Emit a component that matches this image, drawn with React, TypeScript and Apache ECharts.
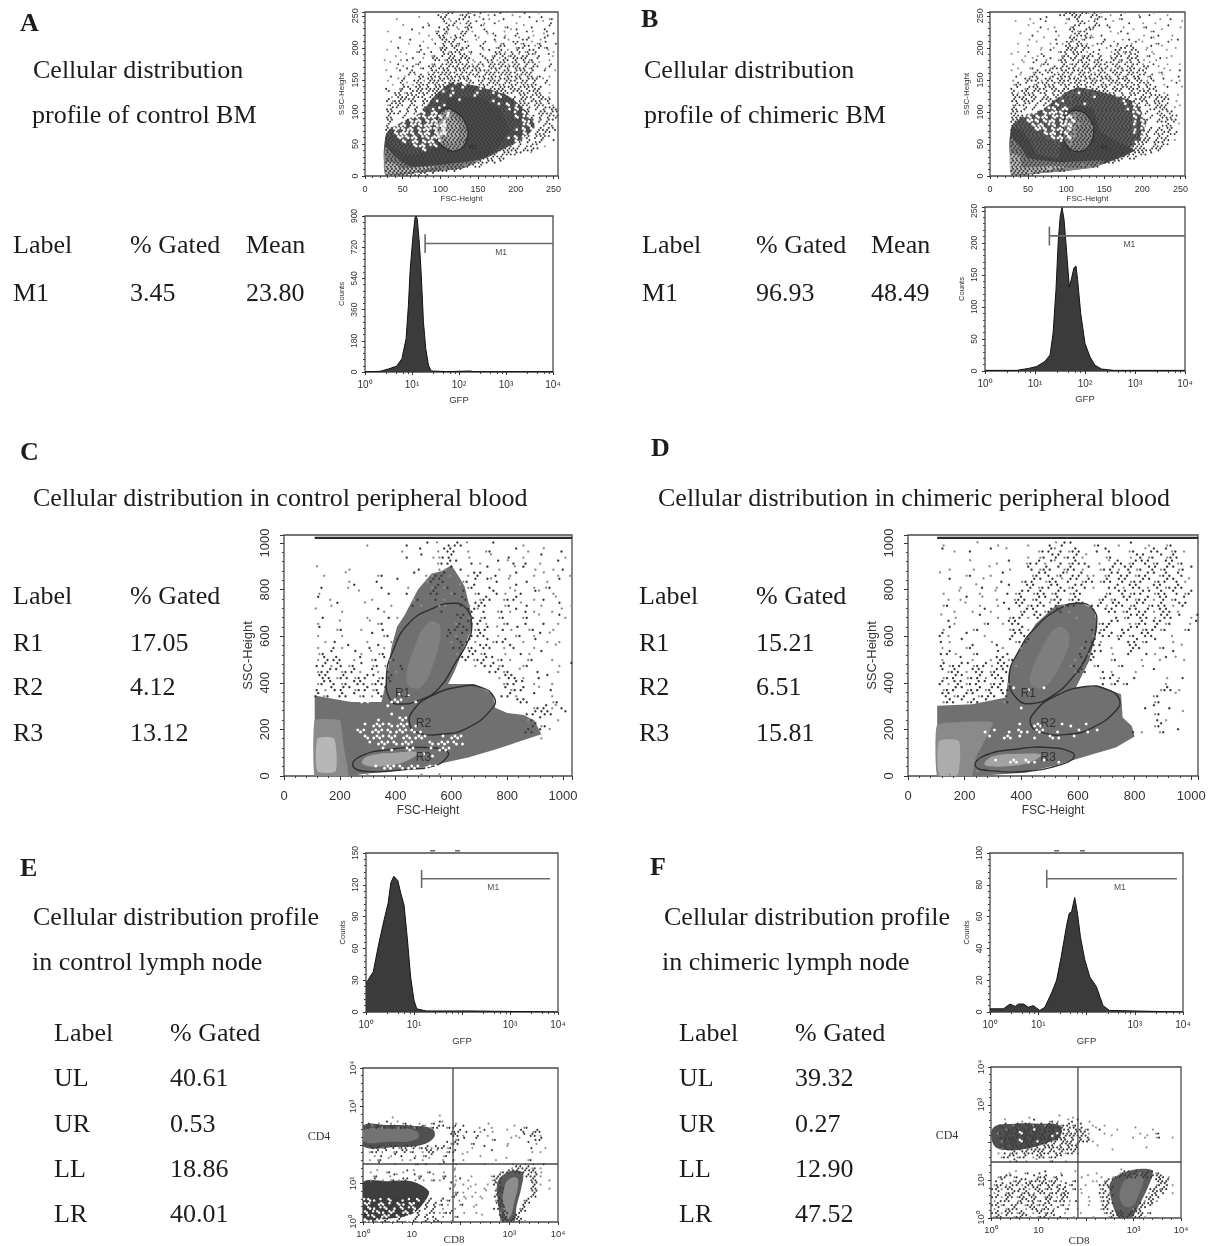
import React, { useEffect, useRef } from "react";
import * as echarts from "echarts";

// ---------- tick labels ----------
const logLabelsFull = ["10⁰", "10¹", "10²", "10³", "10⁴"];
const logLabelsNoTwo = ["10⁰", "10¹", "", "10³", "10⁴"];
const quadXLabels = ["10⁰", "10", "", "10³", "10⁴"];
const quadYLabels = ["10⁰", "10¹", "", "10³", "10⁴"];

// ---------- histograms: [GFP intensity, counts] ----------
const histA = [[1,1],[2.1,4],[3.1,17],[4.7,33],[6.1,77],[7.5,193],[8.4,387],[9.1,580],[10.4,774],[11.6,890],[12.2,900],[13,880],[14.4,735],[15.6,580],[17.5,290],[19.6,135],[22.4,39],[25.5,6],[55,2],[173,6],[204,2],[10000,2]];
const histB = [[1,1],[4.3,1],[7.4,4],[10.8,7],[15.8,15],[20,25],[23,59],[26.3,127],[29.3,205],[32,242],[34.7,255],[38,237],[43,185],[48.6,131],[54,145],[60,161],[66,164],[71,143],[82,90],[100,43],[126,22],[158,9],[215,3],[370,1],[10000,1]];
const histE = [[1,27],[1.17,32],[1.42,38],[1.8,62],[2.3,84],[2.9,103],[3.3,122],[3.8,128],[4.6,124],[5.3,112],[6.2,101],[7.3,68],[8.5,33],[10,11],[11.4,3],[18,1],[66,1],[147,1],[10000,0]];
const histF = [[1,2],[1.9,2],[2.6,5],[3.3,3.5],[3.9,5],[5,5],[6.2,3],[7.9,4],[10.8,1],[13.7,3],[18.9,12],[24,20],[30,35],[38.5,54],[43.7,62],[49,63],[57,72],[65,62],[75,47],[92,33],[117,22],[160,16],[220,4],[300,1],[10000,0]];

// marker M1: low, high, level, tick low, tick high, label x, label y
const markerA = [19, 10000, 741, 687, 794, 790, 693];
const markerB = [19.4, 10000, 211, 196, 225, 770, 198];
const markerE = [14.4, 6800, 125.7, 117, 134, 447, 118];
const markerF = [15, 7500, 83.8, 78, 89.5, 490, 78.5];

// ---------- density regions (FSC, SSC) ----------
const aHalo = [[27,20],[27,62],[32,72],[50,85],[75,100],[92,125],[115,146],[150,140],[190,125],[215,100],[225,76],[205,55],[180,40],[160,28],[100,12]];
const aDark = [[27,2],[27,60],[38,42],[62,32],[90,42],[92,100],[116,122],[152,122],[180,102],[192,70],[180,50],[161,30],[130,12],[62,4]];
const aMid = [[27,2],[27,45],[40,30],[60,15],[95,17],[150,25],[158,28],[130,12],[62,4]];
const aLight = [[28,3],[28,22],[38,20],[48,12],[75,14],[95,15],[70,8],[40,4]];
const aGate = [[94,82],[105,104],[120,100],[134,80],[135,56],[123,40],[107,43],[95,61]];
const aCore = [[104,80],[112,92],[122,85],[124,62],[116,52],[106,60]];

const bHalo = [[28,30],[28,76],[45,95],[70,105],[92,125],[115,138],[150,130],[190,115],[205,85],[200,60],[185,45],[165,30],[100,12]];
const bDark = [[28,2],[28,76],[45,68],[55,50],[60,35],[90,28],[92,60],[95,100],[115,110],[135,105],[145,70],[165,55],[190,40],[170,28],[140,15],[100,8],[60,4]];
const bMid = [[28,2],[28,60],[40,45],[50,28],[90,22],[150,24],[140,14],[100,8],[60,4]];
const bLight = [[28,4],[28,35],[40,30],[42,14],[80,16],[100,14],[60,6]];
const bGate = [[96,74],[101,95],[116,102],[132,87],[136,67],[129,46],[114,38],[99,51]];

const cOuter = [[110,0],[110,345],[180,330],[241,318],[349,318],[367,409],[385,552],[405,640],[432,690],[480,800],[528,868],[565,880],[600,904],[630,850],[648,811],[671,696],[676,640],[660,595],[612,452],[588,395],[683,395],[749,351],[755,294],[800,270],[860,262],[898,237],[922,179],[851,151],[760,115],[660,79],[492,36],[380,20],[277,7],[241,0]];
const cMid = [[110,0],[110,240],[200,240],[215,120],[230,0]];
const cLight = [[120,20],[120,160],[180,160],[185,20]];
const cCoreR1 = [[440,400],[470,560],[520,660],[560,640],[540,500],[490,380]];
const cCoreR3 = [[280,55],[300,85],[400,100],[480,100],[430,60],[330,40]];
const cR1 = [[383,323],[367,423],[391,538],[445,652],[529,717],[612,741],[654,717],[672,653],[660,581],[612,481],[553,373],[481,323],[421,309]];
const cR2 = [[450,222],[462,280],[528,344],[636,384],[707,380],[753,337],[749,294],[660,208],[564,179],[480,186]];
const cR3 = [[247,43],[277,86],[385,115],[504,122],[581,108],[587,86],[539,43],[444,29],[301,19]];

const dOuter = [[103,0],[103,301],[227,308],[345,337],[357,452],[392,538],[451,653],[522,732],[604,746],[658,717],[669,638],[640,495],[593,380],[675,387],[752,351],[758,251],[790,215],[800,170],[734,122],[652,93],[534,50],[416,14],[238,0]];
const dMid = [[103,0],[103,220],[300,230],[240,80],[225,0]];
const dLight = [[110,5],[110,150],[180,150],[175,5]];
const dCoreR1 = [[430,400],[470,540],[530,640],[570,600],[540,480],[480,380]];
const dCoreR3 = [[270,50],[300,85],[400,95],[470,90],[420,55],[320,40]];
const dR1 = [[386,330],[357,423],[392,538],[451,638],[534,717],[604,741],[652,717],[666,653],[640,538],[581,423],[510,344],[439,311]];
const dR2 = [[433,222],[451,280],[522,344],[628,384],[699,373],[746,330],[734,280],[652,208],[569,179],[475,186]];
const dR3 = [[238,43],[268,86],[380,115],[498,122],[581,100],[581,72],[522,43],[439,22],[297,22]];

// quadrant regions in decades of CD8, CD4
const eBandUL = [[0,1.97],[0,2.5],[0.5,2.52],[1.0,2.5],[1.42,2.42],[1.46,2.2],[1.2,2.0],[0.7,1.95]];
const eCoreUL = [[0,2.1],[0,2.38],[0.6,2.42],[1.1,2.36],[1.1,2.15],[0.5,2.08]];
const eLL = [[0,0.1],[0,1.03],[0.5,1.06],[1.0,1.06],[1.35,0.8],[1.25,0.5],[1.0,0.2],[0.6,0.1]];
const eLR = [[2.75,1.0],[2.85,1.2],[3.05,1.33],[3.28,1.28],[3.25,0.9],[3.15,0.4],[3.1,0],[2.85,0],[2.78,0.4]];
const eCoreLR = [[2.9,0.9],[3.05,1.15],[3.18,1.1],[3.1,0.5],[3.0,0.1],[2.9,0.2]];
const fBandUL = [[0.05,1.95],[0.05,2.4],[0.5,2.5],[1.0,2.5],[1.45,2.45],[1.45,2.15],[1.2,2.0],[0.8,1.85],[0.3,1.8]];
const fLR = [[2.5,0.9],[2.7,1.15],[3.1,1.3],[3.4,1.25],[3.3,0.8],[3.1,0.3],[2.95,0],[2.7,0],[2.55,0.4]];
const fCoreLR = [[2.75,0.85],[2.95,1.1],[3.2,1.12],[3.1,0.6],[2.95,0.3],[2.75,0.4]];

// ---------- event maps read cell by cell ----------
// . and ' dark event, : two dark events, , and ` grey event, o and O gap, % two gaps
const mapA = [
"                  .`:' ,.:`.' , .'  ,  '   `    ",
"       ,     `    ':,  .:'  `.,   .   ` '  ' ,. ",
"               ,   '.`:, :.' ,  .`   ,    ' ` . ",
"         `    .'  . :', ,:. '`    ,.   ` .   ' ,",
"     ,     '     ,.':  `.:,  '.   , `'  .,  '.  ",
"             ` , '.:` .':  .  `'. ,  :   ,  `.' ",
"        '  .    , ':.`:'.  ,`   . ',  `.:  ,'   ",
"      `   ,   `  . :':,.'`   :  `,. ':,. `,.'  .",
"        .    ' ,  ,:.':`.:  '.  ,:'  ,.:' `:,.  ",
"     `  ,   ,:  . ':,.::`,.  `' .:,`.'.,:'.  `, ",
"       ,  `   ' ,. :':.':.` '. ,:':,:.`.:'`. ', ",
"    ,   , .'  ` ':.,::.:':,  '.:,`:.':':,.'  ,  ",
"      ` .   ,:  ,. .::':.:,`:.':.::,':.':'.`  . ",
"       , `.' ,.':`:.:':.::':.`':.:':':.:,:' ,'  ",
"     `  '  :.  ,':.::.:':.:':':.:.::.:':.:  '  `",
"      .  ,' `:.':.:':.::.:':.:':.:':.::':.,. ,  ",
"     ,  `:  .:,':.::':.:':.%.:':.:':.:'.:': `.  ",
"      , '.`,':.:':.:':o:%:'o:.:':.:'.:':.:. ',  ",
"     .  ,:'.':.:.::':O::o:::O:o:.::':.:':'.:    ",
"     ' .:,.:':.:':.o:O:::::O:::O:':.:':.:':. ,  ",
"      ,':.:':.:o:':::o:::::o:::::%:.O.':.:':.,  ",
"     :,.::':.o:.:O:::::o:::::::O:::::O::o:.:': ,",
"     ,:':.o:.O:o:::O:::::::::::::o:%:O:::O::.',",
"     .:'oO:o:%:.O:o::::::::::::::::O:%:o:%:o:':.",
"     ':.:O:%:o%:O%::O::::::::::::::::o:%:O%::.:'",
"     :.o%:%O%o%O%o%:o::::::::::::::::%:o%:O:%:':",
"     ':%o%:%O%:%O%:O:::::::::::::::::::%O:%:o:' ",
"     :o%O%:%o%O%o%O%:::::::::::::::::::o%:O%:'.  ",
"     ::%o%O%:%O%o%:%:::::::::::::::::O:%:%O:.:'. ",
"     ::%O%o%:%O%:%O%:::::::::::::::::::%:%:.:'  ",
"     :::%o%O%:o%O%o::::::::::::::::O:%:o:%:':'   ",
"     ::::%:O%:%O%:o::::::::::::::::::%:o:%.:  '  ",
"     :::::::%O%:o%:::::::::::::::::::O:%.:' ,    ",
"     :::::::::%:::::::::::::::::::::::o:.:'      ",
"     ::::::::::::::::::::::::::::o::.:'  `      ",
"     :::::::::::::::::::::::::.:':.              ",
"     ::::::::::::::::::::::.:.:'.'               ",
"     :::::::::::::::::::.:'.:                    ",
"     ::::::::::::::.:':'                         ",
"     :::::::.:'.'                                ",
];
const mapB = [
"                 .:':.:'`:.` ,  .`  ,  .`  ,    ",
"         ,  .'    ,.':  ',:`.  ,.   '    ,  .   ",
"      `   ,  '    ,  ':.`'.   `   .  ,  ,      `",
"         `  .  ,   ,:'  .:' '.  ,    ,.    '  , ",
"           ,  ` .  ':,.:'`   ,  .  `   ,. `     ",
"       `  .     ,  ,':.:,  .   ` '   ,   .  ,   ",
"         ,   `  .  ':.,:'`  .   , . ,  '`   , . ",
"      ,    `  , .,':`:.,  .:  `.  ,' `  ,. '    ",
"         `  ,  ,  ':.:':.`  ,' `.:'.  ,'  `  ,  ",
"      ,  .  ` ' ,.:':.:, .'  ,':,.:'. `,   `    ",
"     `  ,  ,'.   ,:.':,.:.'. ,':.`:'. ,.`   ,   ",
"       ,  `. ,' ,:.':,:'.,:. ':,.':'.,  ,' `    ",
"     ,  ` ' ,:.  ':,.:':.':.:'.:`:'.:, `.  ,  , ",
"      ,  ,. ` ,:.:'.:,':.:'.:,':.':.,':  `,     ",
"     ` ,  ,:.':.,':.:':.:,':.':.:':.:'.  ,. ` ' ",
"      .` ,:.' ,:':.:,':.:':.:.':,:'.:',:  `   . ",
"     ,  ':.:,':.':.:':.:':.:':.:':.':.,'. ' , , ",
"     ,:.' ,:':.:':.:':.:':o:.:':.:'.:':.  ,  '  ",
"     .' ,:':.:':.o:.':.:'.:':o:.:':.:,'.:  '   `",
"     :,':.:'.:o:':.:'O:.:':::.:'.O:.:':.' ,    ,",
"     ':.:':.O:.':o:.:.:::O:::::o:.:'o:.:':.:  ` ",
"     :.':.:o:':.:O:.::::::::::::O:.:':.O:.:' ,  ",
"     ,:.:'O:%:o:%:'::::o:::::::::o:%:O:.':.:  , ",
"     :.o:%:O%.o%:O%.:::::::::::::O:%:o%.:':. ` ",
"     ::'%O%o:%O%o%O.:::::::::::::::o%O:%o:.': ",
"     :::o%:%O%:%o%O%.::::::::::::::%:%O:%':.:'  ",
"     ::::%o%:%O%:%O:%::::::::::::::O:%:%o:.:':  ",
"     :::::%O%:o%:%o%:.:::::::::::::o:%O%o%.:. ` ",
"     ::::::%o%:%O%:%.::::::::::::::O:o%:%:.':  ",
"     ::::::::%O%:o%:.::::::::::::::o:%:O:.:'.:   ",
"     :::::::::'%O%:%.::::::::::::::::o:.O:.:    ",
"     ::::::::::.:o:.:::::::::::::::O:::o:.:' `  ",
"     ::::::::::::':.::::::::::::::::::oO:.:'    ",
"     :::::::::::::::::::::::::::::::::.:':      ",
"     :::::::::::::::::::::::::::::.:':.'        ",
"     ::::::::::::::::::::::::::.:'.:            ",
"     ::::::::::::::::::::::::.:'                ",
"     :::::::::::::::::.:':.                     ",
"     :::::::::.:':.                             ",
"     ::::.:'                                    ",
];
const mapC = [
"                                                ",
"             ,      .  ' ` .:.`   '    ,        ",
"                   ,  '  ,':. ,  ,.   ' ,  `  . ",
"                    . ' ,,.:  ,   `  . ,  '   , ",
"                         ,.:'  .,  ' `. . ,  '  ",
"     `    ,           .  ,,' .   ' ,  `' ,  , . ",
"      ,   `    ,.    ' ,,.:,  ,':  . ,'  , ` , ,",
"          ,    .  '    ,:'.  ,.' '`. `  .  , '  ",
"      .   ,'    .   ,   ,:,. `,:  .  ,'  , ,.    ",
"     ,      `    .  .   :. ,.' ,. '., `. '` ,   ",
"     ' ,      ,      ,.  .,  '. ,:. ,.:  , . `  ",
"       ,'    `   ,   .,  ,,  .,':.  ,. `. ,  ' ,",
"     `   ,     ',         .   ':`. ,.,' .,  , ` ",
"      .      ,   .,         ':,.,. ,.  ,. `  ',",
"     ,   `    `,.           ,.'.:,  ,.  .  . ,  ",
"     '  ,.  ,   .          .:'.,.: `.,' ,.  ,   ",
"     ,   ,    ' ,.         :,',.:. ,  ,. ,' `   ",
"      , .    ,   ,'        ,'.:, ',.:  , ' , ,  ",
"     ,  .,'   .',           .:,.':. ,'.  ,   `  ",
"     ,.'   ', `,.           ,.':,.  ,  ., '     ",
"     ,'.:. ,' ,.',.          ':,.:',.,  ,.  ,   ",
"     .:,'.,.' ,.,  .           ,'.:,.  ,.    , '",
"     ,.:',.:, ', .,'              .:,. `  .  ,  ",
"     ':.,:.,.:',.:                 ,':.,  .'    ",
"     ,:'.,.':.,:.'                  ,.:' ,  ,   ",
"     .,'.:',.:,.'                   ',.:  ` .   ",
"     :,. :.',.,'.  oO               .:,  '  ,   ",
"           oO%o  O%o O                ':.   ,.  ",
"                 o O                     ,.:,`. ",
"                 O                      .:':. ' ",
"               O   %o                   ,.'  ,  ",
"             oO%o%O%oO                   :,.    ",
"            %oO%o%O%o%O                 :.' `   ",
"             %O%o%oO%O%o  oO%o            ,     ",
"              oO%o%O%o  %O%o%O                  ",
"                oO  %o  oO%o                    ",
"                       oO                       ",
"                                                ",
"               oO%o%O%oO%o                      ",
"             ,        ,  ,                      ",
];
const mapD = [
"                                                ",
"     ,     `  ,    ,   .`:'   ,.  , '  ,  ,.    ",
"     ' ,  .  '  `    ,.:`.,:.  .'.  ,. `:.',.,  ",
"                   , ,.':,.:,`  ,.  ,':,.',:.   ",
"          `   , '  ,.:,'`.,:.. , `:.,:':,.':,.  ",
"      ,   ,  `  ,  '.,:.',:.,' ,.:,':,.':,:',.' ",
"     `   ,.  , '    ,:'.,:`.:,, ,:'.:,.:',:.'.  ",
"      '     `  .  ,.:',:.`:',:.,:.':,.:',.:'.,` ",
"        ,  `. , '  ':,.:'.,:'.,  .:,':.,':,.:.  ",
"     ,  `  ,  ` .,:',:.,:',:.   ,.':,.:',:.'.,: ",
"      , ,'  ` ,  ,:.,:',:.,:.  ,:,.':,.:,':,.'  ",
"     ,.  ` ,  ,' ':,.:.`:,.:',.:,':.,:',.:.,':  ",
"       ,  , ',  ' ,:'.,:'.,     ':.,:'.:,':.,   ",
"     ` ,   '  , ,.:,':     ,      .,:':.,':.' ,' ",
"      ',    ,. ,':.            ,.:' ,,:.':,.  ,' ",
"     ,'   ,.    ,.:,          .,:  .:',.:,.  ,.",
"     :,  '  ,    :'.          ,'.:,:,.':.  ,  ",
"     ., '    ,  ',.:         .:,  ' .:,.'  ,   ",
"     ,   ,:   ',  ,         ,.:' ,  ':.  ,.  `  ",
"     .:,  ,.  ' .           .,:' ,  :  .,  '   ",
"     ,  ' ,  ,':,.         ,'.:  ,.   ,  ,' `,",
"     :,.:',.:,':.,        ,.' ,.  ,.  ,      ",
"     ',:.,':.,:'.          ,:.  .,   ,  '   ",
"     ,.:',.:,':.               ,.:,  .    ,  .   ",
"     :,':,.:',.:,               .,:,.     ,   ",
"     ,.:',.:,:'.:o O  o                  ,:.,   ",
"     ':,.:',.:.'.                       ,.  `   ",
"     ,:.',:.'  ,.                       ,.      ",
"                  O                    .'  .    ",
"                                        ,.   `  ",
"                                         .,     ",
"                  o O%   oO  o          ,:      ",
"            O o O %O %o O   oO o     .,  ,. '   ",
"             o O% o O  %O  o                    ",
"                                                ",
"                                                ",
"                                                ",
"              o O% %O o O                       ",
"                                                ",
"      ,    `                                    ",
];
const mapE = [
"                                                ",
"                                                ",
"                                                ",
"                                                ",
"                                                ",
"                                                ",
"                                                ",
"                                                ",
"                                                ",
"                                                ",
"                                                ",
"                  ,                             ",
"       `                                        ",
" . , ', `,.  ,  ,.'`  ,       ,                 ",
" .`:,.':,.:',.:`,.:',.: '   ,  ,     ` ,.       ",
"                     ,.: . .,' ,   `  '. ,:.    ",
"                     ':.,   . ,      , ' :.,    ",
"                      ,.'  '   ,.   ` `   .:    ",
"                    ',:.  ,.       ,    ' ,     ",
" '.:,.':,.:':,.:,'.:,.    ,  '     `     .  ,   ",
" ,.:,' ,.':,. ,':.` ,.:  ,     '         , ,    ",
"  , . ,' .  , ,.'  ,.   `   ,                   ",
" , ,. `  , ,' , `  ,  . ,       ,  `    ,.      ",
"   '   ,    ,. .  ,'  ,      ,      ,  , ,  .   ",
"                      ,             ,':.:,.,    ",
" , ` ,.  ,' `  ,.  ,  `          ,.:':.:':.,    ",
"  ,.  ,'`   ',.  ` ,. ,   ,    ,.:      :.:,    ",
" ,' , ,.,': ,', ,.,'  ,' ,     ,:'       :.  , ",
"                     ', ,  ,  , :'       ':,    ",
"                     .`  ,`  ,  ,:.      :.  ,  ",
"                      ,.,  ,  ` ':.      ':     ",
"                     ,: , , ,   :.       :.     ",
"o%O:o:%::O:o:%:O:o%:,. , `   `  ,:.    ,:       ",
"%o:O%:o:%O:%o:O:%:,.,  ,.  ,    ':.    :'       ",
":%O:o%:O:%:o%:O:%:o,  ,    `    .:'   ,:        ",
"%:o%O:%o:O%:o:%O:.,,.:  ,  ,     ,:.  :'        ",
":o%:O%o:%:O%o:O:%. ,  ,.     `   ':. :.         ",
"%O:%o:O%:o%O:%o:O:.  ,           ,:.:':,        ",
];
const mapF = [
"                                                ",
"                                                ",
"                                                ",
"                                                ",
"                                                ",
"                                                ",
"                                                ",
"                                                ",
"                                                ",
"                                                ",
"                                                ",
"                                                ",
"         ,       `  ,                           ",
"   `   ,  '   ,.,  `.'  ,                       ",
"  .' ,:.':,.',:.',.:,.'  ,  ,                   ",
"  ',.:.:.:O:.:':':.:'.:,. `.   ,    `   ,       ",
" ,.':.:%:.':.:':O:.:.:':,   ,        ,   ,.      ",
"  .:..:':':.:.:o:.:':':'.     `    ,  ,` ,.  ,  ",
"  ,:':.%:.:O:':.:':.:%:.:,                       ",
"  .:':.:':.:':.:O:':.:    ,                     ",
"  ,'.:':':.:.:':':.:.:        ,        `        ",
" , .,:.':.:':.:'.:,.:,                          ",
"  ,.:',.: ,':.,.:'                              ",
"    ,'. ,  `  ,.  ,                             ",
"                                                ",
"                                ,               ",
"    , ` ,.  .'   ,   `    ,     ,:'.:,.:',.     ",
" ,.:',.   ',.: ,.'    , `  ,  ,.:':.:':.:':.,  ",
" .'  ,.:',.:.:,.:,  ,.   ,, ,:'          ':.:  ",
",.:,'.:,':.,:'.:,.',.  ,   .:.           ,:'.,",
".:,':. .:,':.,:.'.: ,.,    ,.':         .:,:.  ",
",' ,.:',:.,':.,.:,:.  ,    .:,         ,':'. , ",
".:,':.,:.':. ,:.,':.    ,  ,.:'        .:'.    ",
", .:. ,:'.:,.':,.:., .  ,  ,.:        ,':,     ",
".:,. .:',.:,.:'. ,.,    ,   .:'      ':':      ",
",' ,.:. ,':.,:.,' ,. ,     ,:.     ,.:'        ",
".:,':.,:. ,':,.:  ,   ,     ,.:':. :':.,.      ",
",:.' ,.:', ,.:,' .  ,    ,   ,:':.:'.:,        ",
];

// ---------- region labels ----------
const gateLabelsA = [[143, 46, "R1"]];
const gateLabelsB = [[150, 46, "R1"]];
const gateLabelsC = [[425, 358, "R1"], [500, 228, "R2"], [500, 80, "R3"]];
const gateLabelsD = [[425, 358, "R1"], [495, 228, "R2"], [495, 80, "R3"]];

// ---------- text of the tables and captions ----------
const colLabel = "Label";
const colGated = "% Gated";
const colMean = "Mean";
const rowsA = [["M1", "3.45", "23.80"]];
const rowsB = [["M1", "96.93", "48.49"]];
const rowsC = [["R1", "17.05"], ["R2", "4.12"], ["R3", "13.12"]];
const rowsD = [["R1", "15.21"], ["R2", "6.51"], ["R3", "15.81"]];
const rowsE = [["UL", "40.61"], ["UR", "0.53"], ["LL", "18.86"], ["LR", "40.01"]];
const rowsF = [["UL", "39.32"], ["UR", "0.27"], ["LL", "12.90"], ["LR", "47.52"]];

const SERIF = '"Liberation Serif", serif';
const SANS = '"Liberation Sans", Arial, sans-serif';
const BODY = 26;

function txt(x: number, y: number, text: string, size = BODY, weight = "normal"): any {
  return {
    type: "text", x, y, silent: true, z: 50,
    style: { text, font: `${weight} ${size}px ${SERIF}`, fill: "#1c1c1c", align: "left", verticalAlign: "middle" },
  };
}
function small(x: number, y: number, text: string, size: number): any {
  return {
    type: "text", x, y, silent: true, z: 50,
    style: { text, font: `${size}px ${SERIF}`, fill: "#333", align: "center", verticalAlign: "middle" },
  };
}
function table(xs: number[], ys: number[], rows: string[][], head: string[]) {
  const out: any[] = head.map((h, i) => txt(xs[i], ys[0], h));
  rows.forEach((r, ri) => r.forEach((c, ci) => out.push(txt(xs[ci], ys[ri + 1], c))));
  return out;
}

const App = () => {
  const ref = useRef<HTMLDivElement>(null);
  useEffect(() => {
    const chart = echarts.init(ref.current!, undefined, { renderer: "svg" });
    const grids: any[] = [];
    const xAxes: any[] = [];
    const yAxes: any[] = [];
    const series: any[] = [];

    const addGrid = (box: number[]) => {
      grids.push({ show: true, left: box[0], top: box[2], width: box[1] - box[0], height: box[3] - box[2], borderColor: "#4a4a4a", borderWidth: 1.3, backgroundColor: "transparent", containLabel: false });
      return grids.length - 1;
    };
    const tickStyle = (size: number, minor: number) => ({
      axisLine: { show: false },
      axisTick: { show: true, length: size >= 11 ? 4 : 3, lineStyle: { color: "#333", width: 1 } },
      minorTick: { show: true, splitNumber: minor, length: 2, lineStyle: { color: "#444", width: 1 } },
      splitLine: { show: false },
    });
    const valueAxis = (dim: string, g: number, max: number, interval: number, size: number, name: string, gap: number, nameSize: number, margin: number) => ({
      type: "value", gridIndex: g, min: 0, max, interval, name, nameLocation: "middle", nameGap: gap,
      nameTextStyle: { fontFamily: SANS, fontSize: nameSize, color: "#333" },
      ...tickStyle(size, 5),
      axisLabel: { show: true, showMaxLabel: max % interval === 0, fontFamily: SANS, fontSize: size, color: "#333", margin, rotate: dim === "y" ? 90 : 0, formatter: (v: number) => String(v) },
    });
    const logAxis = (g: number, labels: string[], size: number, name: string, gap: number, nameSize: number) => ({
      type: "log", logBase: 10, gridIndex: g, min: 1, max: 10000, name, nameLocation: "middle", nameGap: gap,
      nameTextStyle: { fontFamily: SANS, fontSize: nameSize, color: "#333" },
      ...tickStyle(size, 5),
      axisLabel: { show: true, fontFamily: SANS, fontSize: size, color: "#333", margin: 7, formatter: (v: number) => labels[Math.round(Math.log10(v))] ?? "" },
    });
    const decadeAxis = (dim: string, g: number, labels: string[]) => ({
      type: "value", gridIndex: g, min: 0, max: 4, interval: 1,
      ...tickStyle(9, 5),
      axisLabel: { show: true, fontFamily: SANS, fontSize: 9.5, color: "#333", margin: 6, rotate: dim === "y" ? 90 : 0, formatter: (v: number) => labels[v] ?? "" },
    });

    const poly = (g: number, pts: number[][], fill: string, stroke = "none", smooth = 0) => {
      series.push({
        type: "custom", coordinateSystem: "cartesian2d", xAxisIndex: g, yAxisIndex: g, silent: true, clip: true,
        data: pts,
        renderItem: (p: any, api: any) => {
          if (p.dataIndex !== pts.length - 1) return null;
          return { type: "polygon", shape: { points: pts.map((q) => api.coord(q)), smooth }, style: { fill, stroke, lineWidth: 1.4 } };
        },
      });
    };
    const dots = (g: number, map: string[], xMax: number, yMax: number, size: number, whiteExtra = 0.5) => {
      const rows = map.length;
      const place: Record<string, number[][]> = {
        ".": [[0.25, 0.75]], "'": [[0.7, 0.25]], ":": [[0.25, 0.75], [0.7, 0.25]],
        ",": [[0.7, 0.75]], "`": [[0.3, 0.2]],
        o: [[0.3, 0.35]], O: [[0.75, 0.7]], "%": [[0.3, 0.35], [0.75, 0.7]],
      };
      const collect = (chars: string) => {
        const out: number[][] = [];
        map.forEach((line, r) => {
          for (let c = 0; c < line.length; c++) {
            const ch = line[c];
            if (!chars.includes(ch)) continue;
            place[ch].forEach((q) => out.push([(xMax * (c + q[0] + (r % 2 ? 0.2 : 0))) / 48, yMax * (1 - (r + q[1]) / rows)]));
          }
        });
        return out;
      };
      const add = (chars: string, color: string, s: number) =>
        series.push({ type: "scatter", xAxisIndex: g, yAxisIndex: g, silent: true, symbol: "circle", symbolSize: s, itemStyle: { color, opacity: 1 }, data: collect(chars) });
      add(",`", "#8f8f8f", size);
      add(".':", "#3a3a3a", size);
      add("oO%", "#ffffff", size + whiteExtra);
    };
    const labels = (g: number, items: any[], size: number) => {
      series.push({
        type: "scatter", xAxisIndex: g, yAxisIndex: g, silent: true, symbolSize: 1, itemStyle: { color: "transparent" },
        data: items,
        label: { show: true, position: "inside", fontFamily: SANS, fontSize: size, color: "#222", formatter: (p: any) => p.value[2] },
      });
    };
    const seg = (g: number, pts: number[][], color: string, width: number) => {
      series.push({ type: "line", xAxisIndex: g, yAxisIndex: g, silent: true, showSymbol: false, data: pts, lineStyle: { color, width } });
    };
    const hist = (g: number, data: number[][], m: number[]) => {
      series.push({
        type: "line", xAxisIndex: g, yAxisIndex: g, silent: true, showSymbol: false, data,
        lineStyle: { color: "#111", width: 1 }, areaStyle: { color: "#3b3b3b", opacity: 1 },
      });
      seg(g, [[m[0], m[2]], [m[1], m[2]]], "#6a6a6a", 1.6);
      seg(g, [[m[0], m[3]], [m[0], m[4]]], "#6a6a6a", 1.6);
      labels(g, [[m[5], m[6], "M1"]], 8.5);
    };

    // panel A top
    let g = addGrid([365, 558, 12, 176]);
    xAxes.push(valueAxis("x", g, 256, 50, 9, "FSC-Height", 18, 8, 8));
    yAxes.push(valueAxis("y", g, 256, 50, 9, "SSC-Height", 20, 8, 6));
    poly(g, aHalo, "#565656", "none", 0.2); poly(g, aDark, "#4b4b4b", "none", 0.1);
    dots(g, mapA, 256, 256, 1.9, 0.8);
    poly(g, aMid, "#858585", "none", 0.2); poly(g, aLight, "#bdbdbd", "none", 0.2);
    poly(g, aGate, "#9c9c9c", "#2c2c2c", 0.5); poly(g, aCore, "#b8b8b8", "none", 0.5);
    labels(g, gateLabelsA, 6);

    // panel A histogram
    g = addGrid([365, 553, 216, 372]);
    xAxes.push(logAxis(g, logLabelsFull, 10, "GFP", 22, 9.5));
    yAxes.push(valueAxis("y", g, 900, 180, 8.5, "Counts", 20, 7.5, 7));
    hist(g, histA, markerA);

    // panel B top
    g = addGrid([990, 1185, 12, 176]);
    xAxes.push(valueAxis("x", g, 256, 50, 9, "FSC-Height", 18, 8, 8));
    yAxes.push(valueAxis("y", g, 256, 50, 9, "SSC-Height", 20, 8, 6));
    poly(g, bHalo, "#5e5e5e", "none", 0.2); poly(g, bDark, "#4b4b4b", "none", 0.1);
    dots(g, mapB, 256, 256, 1.9, 0.8);
    poly(g, bMid, "#858585", "none", 0.2); poly(g, bLight, "#bdbdbd", "none", 0.2);
    poly(g, bGate, "#8e8e8e", "#2c2c2c", 0.5);
    labels(g, gateLabelsB, 6);

    // panel B histogram
    g = addGrid([985, 1185, 207, 371]);
    xAxes.push(logAxis(g, logLabelsFull, 10, "GFP", 22, 9.5));
    yAxes.push(valueAxis("y", g, 256, 50, 8.5, "Counts", 20, 7.5, 7));
    hist(g, histB, markerB);

    // panel C
    g = addGrid([284, 572, 535, 776]);
    xAxes.push(valueAxis("x", g, 1032, 200, 13, "FSC-Height", 28, 12, 13));
    yAxes.push(valueAxis("y", g, 1034, 200, 13, "SSC-Height", 30, 13, 13));
    poly(g, cOuter, "#707070"); poly(g, cMid, "#8a8a8a", "none", 0.1); poly(g, cLight, "#b7b7b7", "none", 0.2);
    poly(g, cCoreR1, "#808080", "none", 0.4); poly(g, cCoreR3, "#a3a3a3", "none", 0.4);
    seg(g, [[110, 1022], [1032, 1022]], "#2a2a2a", 2.2);
    dots(g, mapC, 1032, 1034, 2.4);
    poly(g, cR1, "transparent", "#2f2f2f", 0.5); poly(g, cR2, "transparent", "#2f2f2f", 0.5); poly(g, cR3, "transparent", "#2f2f2f", 0.5);
    labels(g, gateLabelsC, 12);

    // panel D
    g = addGrid([908, 1198, 535, 776]);
    xAxes.push(valueAxis("x", g, 1024, 200, 13, "FSC-Height", 28, 12, 13));
    yAxes.push(valueAxis("y", g, 1034, 200, 13, "SSC-Height", 30, 13, 13));
    poly(g, dOuter, "#707070"); poly(g, dMid, "#8a8a8a", "none", 0.1); poly(g, dLight, "#acacac", "none", 0.2);
    poly(g, dCoreR1, "#7e7e7e", "none", 0.4); poly(g, dCoreR3, "#a3a3a3", "none", 0.4);
    seg(g, [[103, 1022], [1024, 1022]], "#2a2a2a", 2.2);
    dots(g, mapD, 1024, 1034, 2.4);
    poly(g, dR1, "transparent", "#2f2f2f", 0.5); poly(g, dR2, "transparent", "#2f2f2f", 0.5); poly(g, dR3, "transparent", "#2f2f2f", 0.5);
    labels(g, gateLabelsD, 12);

    // panel E histogram
    g = addGrid([366, 558, 853, 1012]);
    xAxes.push(logAxis(g, logLabelsNoTwo, 10, "GFP", 23, 9.5));
    yAxes.push(valueAxis("y", g, 150, 30, 8.5, "Counts", 20, 7.5, 7));
    hist(g, histE, markerE);

    // panel F histogram
    g = addGrid([990, 1183, 853, 1012]);
    xAxes.push(logAxis(g, logLabelsNoTwo, 10, "GFP", 23, 9.5));
    yAxes.push(valueAxis("y", g, 100, 20, 8.5, "Counts", 20, 7.5, 7));
    hist(g, histF, markerF);

    // panel E quadrant
    g = addGrid([363, 558, 1068, 1222]);
    xAxes.push(decadeAxis("x", g, quadXLabels));
    yAxes.push(decadeAxis("y", g, quadYLabels));
    poly(g, eLL, "#3e3e3e", "none", 0.3); poly(g, eBandUL, "#505050", "none", 0.4); poly(g, eLR, "#5a5a5a", "none", 0.3);
    dots(g, mapE, 4, 4, 2);
    poly(g, eCoreUL, "#737373", "none", 0.5); poly(g, eCoreLR, "#8d8d8d", "none", 0.5);
    seg(g, [[1.846, 0], [1.846, 4]], "#444", 1.3);
    seg(g, [[0, 1.506], [4, 1.506]], "#444", 1.3);

    // panel F quadrant
    g = addGrid([991, 1181, 1067, 1218]);
    xAxes.push(decadeAxis("x", g, quadXLabels));
    yAxes.push(decadeAxis("y", g, quadYLabels));
    poly(g, fBandUL, "#505050", "none", 0.4); poly(g, fLR, "#5c5c5c", "none", 0.3);
    dots(g, mapF, 4, 4, 2);
    poly(g, fCoreLR, "#757575", "none", 0.5);
    seg(g, [[1.83, 0], [1.83, 4]], "#444", 1.3);
    seg(g, [[0, 1.483], [4, 1.483]], "#444", 1.3);

    const stray = (x: number, y: number) => ({ type: "rect", silent: true, z: 50, shape: { x, y, width: 5, height: 1.5 }, style: { fill: "#666" } });

    const graphic: any[] = [
      txt(20, 22, "A", BODY, "bold"),
      txt(33, 69, "Cellular distribution"),
      txt(32, 114, "profile of control BM"),
      ...table([13, 130, 246], [244, 292], rowsA, [colLabel, colGated, colMean]),
      txt(641, 18, "B", BODY, "bold"),
      txt(644, 69, "Cellular distribution"),
      txt(644, 114, "profile of chimeric BM"),
      ...table([642, 756, 871], [244, 292], rowsB, [colLabel, colGated, colMean]),
      txt(20, 451, "C", BODY, "bold"),
      txt(33, 497, "Cellular distribution in control peripheral blood"),
      ...table([13, 130], [595, 642, 686, 732], rowsC, [colLabel, colGated]),
      txt(651, 447, "D", BODY, "bold"),
      txt(658, 497, "Cellular distribution in chimeric peripheral blood"),
      ...table([639, 756], [595, 642, 686, 732], rowsD, [colLabel, colGated]),
      txt(20, 867, "E", BODY, "bold"),
      txt(33, 916, "Cellular distribution profile"),
      txt(32, 961, "in control lymph node"),
      ...table([54, 170], [1032, 1077, 1123, 1168, 1213], rowsE, [colLabel, colGated]),
      txt(650, 866, "F", BODY, "bold"),
      txt(664, 916, "Cellular distribution profile"),
      txt(662, 961, "in chimeric lymph node"),
      ...table([679, 795], [1032, 1077, 1123, 1168, 1213], rowsF, [colLabel, colGated]),
      small(319, 1136, "CD4", 12),
      small(947, 1135, "CD4", 12),
      small(454, 1239, "CD8", 11),
      small(1079, 1240, "CD8", 11),
      stray(430, 850), stray(455, 850), stray(1054, 850), stray(1080, 850),
    ];

    chart.setOption({
      animation: false,
      backgroundColor: "#ffffff",
      tooltip: { show: false },
      grid: grids,
      xAxis: xAxes,
      yAxis: yAxes,
      series,
      graphic,
    });
    return () => chart.dispose();
  }, []);
  return <div ref={ref} style={{ position: "absolute", left: 0, top: 0, width: 1217, height: 1246, filter: "blur(0.4px)" }} />;
};

export default App;
